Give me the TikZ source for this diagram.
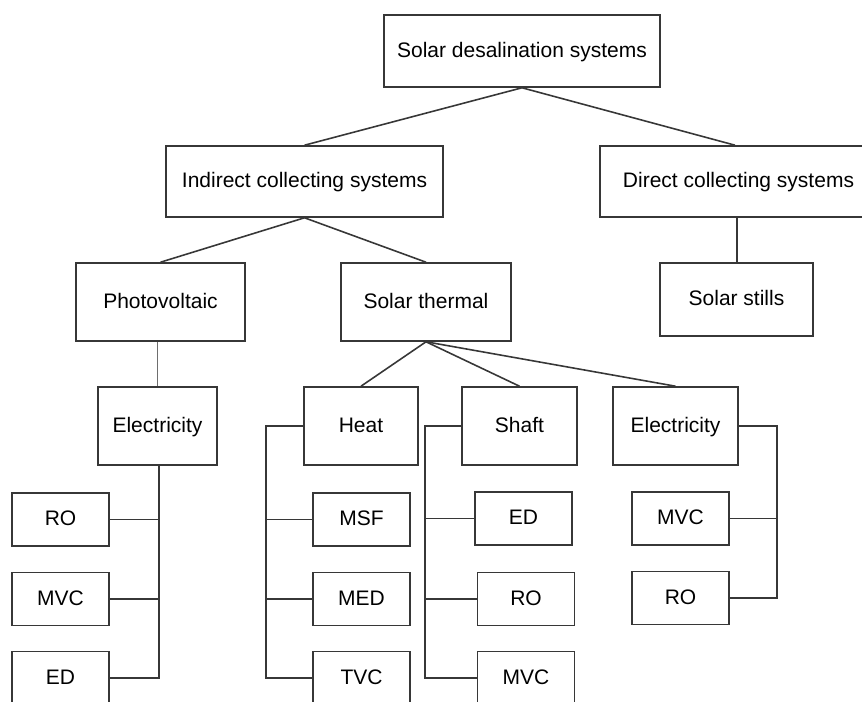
\documentclass[tikz,border=0pt]{standalone}
\usepackage{fontspec}
\setmainfont{Liberation Sans}
\definecolor{sdline}{RGB}{55,55,55}
\definecolor{sdgrey}{RGB}{110,110,110}

\begin{document}
\begin{tikzpicture}[line width=0.9pt,
  sdbox/.style={draw=sdline,inner sep=0pt,text height=0.72em,text depth=0pt,
    font=\fontsize{11.95}{14}\selectfont,minimum height=#1},
  sdbox/.default=1.56cm,
  smallbox/.style={sdbox=1.06cm,minimum width=1.94cm}]
  \useasboundingbox (0,0) rectangle (17.24,-14.04);
  % levels 1 and 2
  \node[sdbox=1.44cm,minimum width=5.52cm] (sds) at (10.44,-1.02) {Solar desalination systems};
  \node[sdbox=1.42cm,minimum width=5.54cm] (ind) at (6.09,-3.63) {Indirect collecting systems};
  \node[sdbox=1.42cm,minimum width=5.54cm] (dir) at (14.77,-3.63) {Direct collecting systems};
  \node[sdbox,minimum width=3.38cm] (pv) at (3.21,-6.04) {Photovoltaic};
  \node[sdbox,minimum width=3.40cm] (sth) at (8.52,-6.04) {Solar thermal};
  \node[sdbox=1.46cm,minimum width=3.06cm] (sst) at (14.73,-5.99) {Solar stills};
  % level 3
  \node[sdbox,minimum width=2.38cm] (ell) at (3.15,-8.52) {Electricity};
  \node[sdbox,minimum width=2.28cm] (heat) at (7.22,-8.52) {Heat};
  \node[sdbox,minimum width=2.30cm] (shaft) at (10.39,-8.52) {Shaft};
  \node[sdbox,minimum width=2.50cm] (elr) at (13.51,-8.52) {Electricity};
  % processes
  \node[smallbox] (ro1) at (1.21,-10.39) {RO};
  \node[smallbox] (mvc1) at (1.21,-11.98) {MVC};
  \node[smallbox] (ed1) at (1.21,-13.56) {ED};
  \node[smallbox] (msf) at (7.23,-10.39) {MSF};
  \node[smallbox] (med) at (7.23,-11.98) {MED};
  \node[smallbox] (tvc) at (7.23,-13.56) {TVC};
  \node[smallbox] (ed2) at (10.47,-10.37) {ED};
  \node[smallbox] (ro2) at (10.52,-11.98) {RO};
  \node[smallbox] (mvc2) at (10.52,-13.56) {MVC};
  \node[smallbox] (mvc3) at (13.61,-10.37) {MVC};
  \node[smallbox] (ro3) at (13.61,-11.96) {RO};
  % bracket lines
  \coordinate (pvb) at (3.18,-8.52);
  \coordinate (hb) at (5.32,-8.52);
  \coordinate (sb) at (8.50,-8.52);
  \coordinate (eb) at (15.54,-8.52);
  % tree lines
  \draw[sdline] (sds.south) -- (ind.north);
  \draw[sdline] (sds.south) -- ([xshift=-0.07cm]dir.north);
  \draw[sdline] (ind.south) -- (pv.north);
  \draw[sdline] (ind.south) -- (sth.north);
  \draw[sdline] ([xshift=-0.03cm]dir.south) -- ([xshift=-0.03cm]dir.south |- sst.north);
  \draw[sdgrey,line width=0.6pt] (ell.north) -- (ell.north |- pv.south);
  \draw[sdline] (sth.south) -- (heat.north);
  \draw[sdline] (sth.south) -- (shaft.north);
  \draw[sdline] (sth.south) -- (elr.north);
  % brackets
  \draw[sdline] (pvb |- ell.south) -- (pvb |- ed1.east) -- (ed1.east);
  \draw[sdline] (ro1.east) -- (ro1.east -| pvb);
  \draw[sdline] (mvc1.east) -- (mvc1.east -| pvb);
  \draw[sdline] (heat.west) -- (heat.west -| hb) -- (hb |- tvc.west) -- (tvc.west);
  \draw[sdline] (msf.west) -- (msf.west -| hb);
  \draw[sdline] (med.west) -- (med.west -| hb);
  \draw[sdline] (shaft.west) -- (shaft.west -| sb) -- (sb |- mvc2.west) -- (mvc2.west);
  \draw[sdline] (ed2.west) -- (ed2.west -| sb);
  \draw[sdline] (ro2.west) -- (ro2.west -| sb);
  \draw[sdline] (elr.east) -- (elr.east -| eb) -- (eb |- ro3.east) -- (ro3.east);
  \draw[sdline] (mvc3.east) -- (mvc3.east -| eb);
\end{tikzpicture}
\end{document}
